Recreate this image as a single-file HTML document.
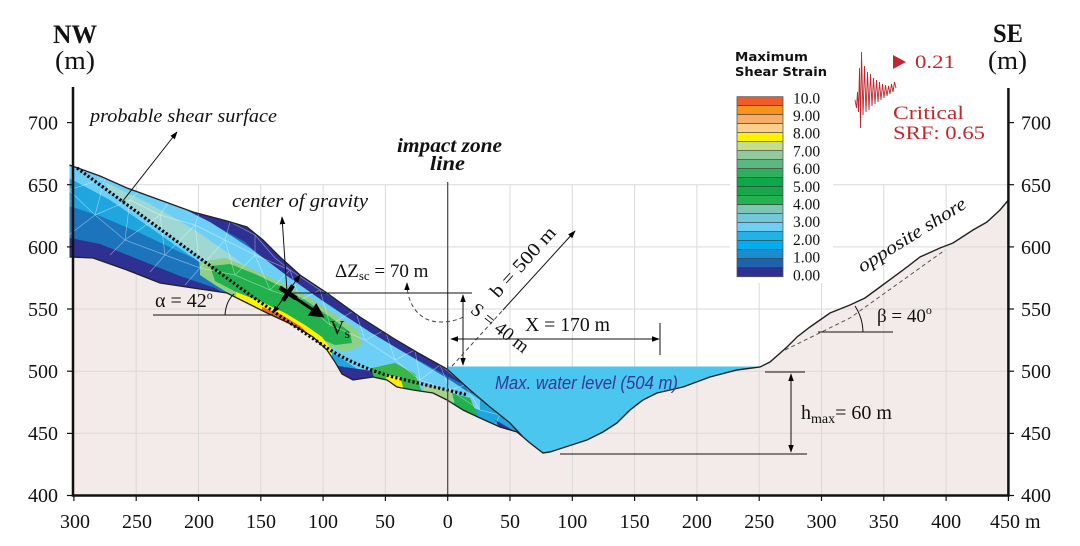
<!DOCTYPE html>
<html><head><meta charset="utf-8"><style>
html,body{margin:0;padding:0;background:#fff;}
svg{display:block;}
text{font-family:"Liberation Serif",serif;fill:#111;}
</style></head><body>
<svg width="1080" height="546" viewBox="0 0 1080 546" xmlns="http://www.w3.org/2000/svg">
<defs>
<marker id="ah" viewBox="0 0 10 10" refX="9" refY="5" markerWidth="8" markerHeight="8" orient="auto-start-reverse"><path d="M0,1.5 L10,5 L0,8.5 z" fill="#000"/></marker>
<marker id="ahb" viewBox="0 0 10 10" refX="8" refY="5" markerWidth="17" markerHeight="15" markerUnits="userSpaceOnUse" orient="auto"><path d="M0,0 L10,5 L0,10 z" fill="#000"/></marker>
<clipPath id="sc"><path d="M69.5,165 L100,176 L127,188 L160,200 L193,212 L227,221 L247,227 L263,240 L280,257 L300,275 L327,293 L360,317 L393,338 L420,354 L447,369 L470,390 L490,407 L510,423 L523,437 L517,432 L500,427 L480,418 L463,410 L447,400 L433,393 L413,390 L397,387 L387,380 L373,377 L353,380 L342,374 L335,362 L327,350 L313,337 L293,325 L267,313 L247,303 L227,293 L193,288 L160,283 L127,270 L93,258 L69.5,257 Z"/></clipPath>
</defs>
<rect x="0" y="0" width="1080" height="546" fill="#fff"/>

<!-- terrain -->
<path d="M73.9,257 L93,258 L127,270 L160,283 L193,288 L227,293 L247,303 L267,313 L293,325 L313,337 L327,350 L335,362 L342,374 L353,380 L373,377 L387,380 L397,387 L413,390 L433,393 L447,400 L463,410 L480,418 L500,427 L517,432 L523,437 L530,443 L543,453 L550,452 L587,440 L603,432 L617,423 L630,410 L643,400 L657,393 L670,390 L683,387 L710,377 L737,370 L760,367 L770,362 L787,347 L797,337 L810,327 L830,313 L850,305 L865,298 L880,287 L907,267 L920,257 L940,248 L953,243 L973,230 L987,222 L1000,210 L1008.4,200 L1008.4,495.5 L73.9,495.5 Z" fill="#f3ebe9"/>

<!-- grid -->
<g stroke="#d9d9d9" stroke-width="1">
<line x1="136.2" y1="184.7" x2="136.2" y2="495.5"/><line x1="198.5" y1="184.7" x2="198.5" y2="495.5"/><line x1="260.8" y1="184.7" x2="260.8" y2="495.5"/><line x1="323.1" y1="184.7" x2="323.1" y2="495.5"/><line x1="385.4" y1="184.7" x2="385.4" y2="495.5"/><line x1="510" y1="184.7" x2="510" y2="495.5"/><line x1="572.3" y1="184.7" x2="572.3" y2="495.5"/><line x1="634.6" y1="184.7" x2="634.6" y2="495.5"/><line x1="696.9" y1="184.7" x2="696.9" y2="495.5"/><line x1="759.2" y1="184.7" x2="759.2" y2="495.5"/><line x1="821.5" y1="184.7" x2="821.5" y2="495.5"/><line x1="883.8" y1="184.7" x2="883.8" y2="495.5"/><line x1="946.1" y1="184.7" x2="946.1" y2="495.5"/>
<line x1="73.9" y1="184.7" x2="1008.4" y2="184.7"/><line x1="73.9" y1="246.9" x2="1008.4" y2="246.9"/><line x1="73.9" y1="309" x2="1008.4" y2="309"/><line x1="73.9" y1="371.2" x2="1008.4" y2="371.2"/><line x1="73.9" y1="433.4" x2="1008.4" y2="433.4"/>
</g>

<!-- water -->
<path d="M447,366.5 L763,366.5 L760,367 L737,370 L710,377 L683,387 L670,390 L657,393 L643,400 L630,410 L617,423 L603,432 L587,440 L550,452 L543,453 L530,443 L523,437 L510,423 L490,407 L470,390 L447,369 Z" fill="#4bc6ef"/>

<!-- slide body -->
<g clip-path="url(#sc)">
<rect x="60" y="150" width="480" height="300" fill="#1fa6df"/>
<path d="M60,203 L100,216 L140,233 L180,252 L215,268 L245,285 L245,420 L60,420 Z" fill="#1c75bc"/>
<path d="M60,236 L100,244 L140,260 L180,276 L215,288 L235,300 L235,420 L60,420 Z" fill="#2e3192"/>
<path d="M150,196 L190,222 L225,240 L250,256 L270,272 L292,292 L320,306 L350,326 L380,344 L410,362 L440,380 L465,392 L480,395 L480,150 L150,150 Z" fill="#1c75bc"/>
<path d="M185,209 L220,228 L245,242 L262,258 L280,275 L300,289 L330,305 L360,327 L393,346 L420,361 L447,376 L460,383 L470,370 L470,150 L185,150 Z" fill="#2e3192"/>
<path d="M69,166 L110,178 L160,197 L210,222 L250,248 L290,278 L330,306 L370,332 L410,356 L450,380 L480,400 L480,410 L440,398 L400,386 L362,372 L332,352 L300,330 L262,304 L225,280 L185,252 L145,224 L110,200 L69,178 Z" fill="#6dcff6"/>
<path d="M105,182 L150,204 L195,230 L235,258 L262,280 L268,300 L240,286 L200,257 L150,222 L108,190 Z" fill="#9fd8d2"/>
<path d="M200,262 L225,258 L250,268 L280,282 L310,298 L335,315 L358,330 L362,345 L345,352 L325,345 L300,332 L270,318 L240,300 L215,285 L200,275 Z" fill="#8fcf86"/>
<path d="M210,266 L230,264 L255,274 L280,286 L305,300 L330,317 L350,332 L352,343 L335,345 L312,335 L290,322 L262,306 L238,293 L215,281 Z" fill="#22b14c"/>
<path d="M236,292 L262,302 L285,313 L305,325 L322,337 L332,350 L332,362 L236,312 Z" fill="#fff200"/>
<path d="M262,307 L282,315 L300,326 L313,338 L313,350 L262,322 Z" fill="#f26522"/>
<path d="M372,368 L395,363 L415,374 L422,392 L390,394 L370,382 Z" fill="#39b54a"/>
<path d="M386,375 L400,377 L404,390 L388,390 Z" fill="#fff200"/>
<path d="M338,366 L372,371 L376,384 L338,384 Z" fill="#2e3192"/>
<path d="M424,386 L452,390 L454,403 L424,399 Z" fill="#a5d38a"/>
<path d="M452,393 L470,398 L478,416 L458,416 Z" fill="#22b14c"/>
<path d="M495,420 L525,437 L503,433 Z" fill="#2e3192"/>
<path d="M69,190 L105,178 L95,215 L69,190 M95,215 L130,200 L125,240 L95,215 M69,235 L95,215 M125,240 L160,215 L165,255 L125,240 M130,200 L160,215 M160,215 L195,225 L165,255 M195,225 L200,268 L165,255 M195,225 L225,240 L200,268 L235,275 L225,240 L255,255 L235,275 M255,255 L270,290 L235,275 M255,255 L290,270 L270,290 L300,300 L290,270 L320,290 L300,300 L330,325 L320,290 L355,310 L330,325 L365,340 L355,310 L385,330 L365,340 L395,360 L385,330 L415,350 L395,360 L420,380 L415,350 L440,365 L420,380 L450,390 L440,365 L465,385 L450,390 L480,410 L465,385 M480,410 L500,415 L495,425 M105,178 L140,190 L130,200 M140,190 L170,200 L160,215 M170,200 L200,210 L195,225 M200,210 L230,222 L225,240 M230,222 L255,235 L255,255 M255,235 L275,258 L290,270 M110,255 L125,240 M150,272 L165,255 M185,285 L200,268" stroke="#fff" stroke-opacity="0.45" stroke-width="0.7" fill="none"/>
</g>
<path d="M69.5,165 L100,176 L127,188 L160,200 L193,212 L227,221 L247,227 L263,240 L280,257 L300,275 L327,293 L360,317 L393,338 L420,354 L447,369 L470,390 L490,407 L510,423 L523,437 L517,432 L500,427 L480,418 L463,410 L447,400 L433,393 L413,390 L397,387 L387,380 L373,377 L353,380 L342,374 L335,362 L327,350 L313,337 L293,325 L267,313 L247,303 L227,293 L193,288 L160,283 L127,270 L93,258 L69.5,257" fill="none" stroke="#222" stroke-width="1.3"/>
<path d="M523,437 L530,443 L543,453 L550,452 L587,440 L603,432 L617,423 L630,410 L643,400 L657,393 L670,390 L683,387 L710,377 L737,370 L760,367 L770,362 L787,347 L797,337 L810,327 L830,313 L850,305 L865,298 L880,287 L907,267 L920,257 L940,248 L953,243 L973,230 L987,222 L1000,210 L1008.4,200" fill="none" stroke="#222" stroke-width="1.4"/>

<!-- shear surface dotted -->
<path d="M77,168 L250,295 L293,325 L327,348 Q355,366 393,377 L468,395" fill="none" stroke="#000" stroke-width="3.2" stroke-dasharray="2.2 2.2"/>

<!-- impact zone line -->
<line x1="447.7" y1="182" x2="447.7" y2="495.5" stroke="#444" stroke-width="1.2"/>

<!-- legend white bg -->
<rect x="730" y="40" width="103" height="243" fill="#fff"/>

<!-- axes -->
<g stroke="#111" stroke-width="2.5" fill="none">
<line x1="73" y1="87" x2="73" y2="496.5"/>
<line x1="71.8" y1="495.5" x2="1009.6" y2="495.5"/>
<line x1="1008.4" y1="88" x2="1008.4" y2="496.5"/>
</g>
<g stroke="#111" stroke-width="1.2">
<line x1="67" y1="495.5" x2="73" y2="495.5"/><line x1="67" y1="433.4" x2="73" y2="433.4"/><line x1="67" y1="371.2" x2="73" y2="371.2"/><line x1="67" y1="309" x2="73" y2="309"/><line x1="67" y1="246.9" x2="73" y2="246.9"/><line x1="67" y1="184.7" x2="73" y2="184.7"/><line x1="67" y1="122.6" x2="73" y2="122.6"/>
<line x1="1008" y1="495.5" x2="1014" y2="495.5"/><line x1="1008" y1="433.4" x2="1014" y2="433.4"/><line x1="1008" y1="371.2" x2="1014" y2="371.2"/><line x1="1008" y1="309" x2="1014" y2="309"/><line x1="1008" y1="246.9" x2="1014" y2="246.9"/><line x1="1008" y1="184.7" x2="1014" y2="184.7"/><line x1="1008" y1="122.6" x2="1014" y2="122.6"/>
<line x1="73.9" y1="495" x2="73.9" y2="501"/><line x1="136.2" y1="495" x2="136.2" y2="501"/><line x1="198.5" y1="495" x2="198.5" y2="501"/><line x1="260.8" y1="495" x2="260.8" y2="501"/><line x1="323.1" y1="495" x2="323.1" y2="501"/><line x1="385.4" y1="495" x2="385.4" y2="501"/><line x1="447.7" y1="495" x2="447.7" y2="501"/><line x1="510" y1="495" x2="510" y2="501"/><line x1="572.3" y1="495" x2="572.3" y2="501"/><line x1="634.6" y1="495" x2="634.6" y2="501"/><line x1="696.9" y1="495" x2="696.9" y2="501"/><line x1="759.2" y1="495" x2="759.2" y2="501"/><line x1="821.5" y1="495" x2="821.5" y2="501"/><line x1="883.8" y1="495" x2="883.8" y2="501"/><line x1="946.1" y1="495" x2="946.1" y2="501"/><line x1="1008.4" y1="495" x2="1008.4" y2="501"/>
</g>

<!-- tick labels -->
<g font-size="20" text-anchor="end">
<text x="58" y="502">400</text><text x="58" y="440">450</text><text x="58" y="378">500</text><text x="58" y="316">550</text><text x="58" y="254">600</text><text x="58" y="192">650</text><text x="58" y="129.5">700</text>
</g>
<g font-size="20">
<text x="1021" y="502">400</text><text x="1021" y="440">450</text><text x="1021" y="378">500</text><text x="1021" y="316">550</text><text x="1021" y="254">600</text><text x="1021" y="192">650</text><text x="1021" y="129.5">700</text>
</g>
<g font-size="20" text-anchor="middle">
<text x="75" y="528">300</text><text x="137" y="528">250</text><text x="199" y="528">200</text><text x="261" y="528">150</text><text x="323" y="528">100</text><text x="385" y="528">50</text><text x="447.7" y="528">0</text><text x="510" y="528">50</text><text x="572.3" y="528">100</text><text x="634.6" y="528">150</text><text x="696.9" y="528">200</text><text x="759.2" y="528">250</text><text x="821.5" y="528">300</text><text x="883.8" y="528">350</text><text x="946.1" y="528">400</text>
</g>
<text x="990" y="528" font-size="20">450 m</text>

<!-- axis titles -->
<text x="53" y="43" font-size="26" font-weight="bold" textLength="44" lengthAdjust="spacingAndGlyphs">NW</text>
<text x="55" y="69" font-size="26" textLength="40" lengthAdjust="spacingAndGlyphs">(m)</text>
<text x="993" y="42" font-size="26" font-weight="bold" textLength="30" lengthAdjust="spacingAndGlyphs">SE</text>
<text x="988" y="69" font-size="26" textLength="39" lengthAdjust="spacingAndGlyphs">(m)</text>

<!-- legend -->
<text x="735" y="61" font-weight="bold" font-size="12.5" textLength="73" lengthAdjust="spacingAndGlyphs" style="font-family:'DejaVu Sans','Liberation Sans',sans-serif">Maximum</text>
<text x="735" y="76" font-weight="bold" font-size="12.5" textLength="92" lengthAdjust="spacingAndGlyphs" style="font-family:'DejaVu Sans','Liberation Sans',sans-serif">Shear Strain</text>
<g>
<rect x="737" y="96.7" width="46" height="9" fill="#f15a29"/>
<rect x="737" y="105.7" width="46" height="9" fill="#f7941d"/>
<rect x="737" y="114.7" width="46" height="9" fill="#f9ad6a"/>
<rect x="737" y="123.7" width="46" height="9" fill="#fdd089"/>
<rect x="737" y="132.7" width="46" height="9" fill="#fff200"/>
<rect x="737" y="141.7" width="46" height="9" fill="#c4df8c"/>
<rect x="737" y="150.7" width="46" height="9" fill="#8fcb9c"/>
<rect x="737" y="159.7" width="46" height="9" fill="#5cb87e"/>
<rect x="737" y="168.7" width="46" height="9" fill="#2eb05a"/>
<rect x="737" y="177.7" width="46" height="9" fill="#0ea84a"/>
<rect x="737" y="186.7" width="46" height="9" fill="#17a74b"/>
<rect x="737" y="195.7" width="46" height="9" fill="#25b14f"/>
<rect x="737" y="204.7" width="46" height="9" fill="#80c6b4"/>
<rect x="737" y="213.7" width="46" height="9" fill="#73c9d9"/>
<rect x="737" y="222.7" width="46" height="9" fill="#6dcff6"/>
<rect x="737" y="231.7" width="46" height="9" fill="#22b2e3"/>
<rect x="737" y="240.7" width="46" height="9" fill="#00aeef"/>
<rect x="737" y="249.7" width="46" height="9" fill="#1b8dcf"/>
<rect x="737" y="258.7" width="46" height="9" fill="#1d63ad"/>
<rect x="737" y="267.7" width="46" height="9" fill="#2e3192"/>
</g>
<g stroke="#333" stroke-width="0.7">
<line x1="737" y1="105.7" x2="783" y2="105.7"/><line x1="737" y1="114.7" x2="783" y2="114.7"/><line x1="737" y1="123.7" x2="783" y2="123.7"/><line x1="737" y1="132.7" x2="783" y2="132.7"/><line x1="737" y1="141.7" x2="783" y2="141.7"/><line x1="737" y1="150.7" x2="783" y2="150.7"/><line x1="737" y1="159.7" x2="783" y2="159.7"/><line x1="737" y1="168.7" x2="783" y2="168.7"/><line x1="737" y1="177.7" x2="783" y2="177.7"/><line x1="737" y1="186.7" x2="783" y2="186.7"/><line x1="737" y1="195.7" x2="783" y2="195.7"/><line x1="737" y1="204.7" x2="783" y2="204.7"/><line x1="737" y1="213.7" x2="783" y2="213.7"/><line x1="737" y1="222.7" x2="783" y2="222.7"/><line x1="737" y1="231.7" x2="783" y2="231.7"/><line x1="737" y1="240.7" x2="783" y2="240.7"/><line x1="737" y1="249.7" x2="783" y2="249.7"/><line x1="737" y1="258.7" x2="783" y2="258.7"/><line x1="737" y1="267.7" x2="783" y2="267.7"/>
</g>
<rect x="737" y="96.7" width="46" height="180" fill="none" stroke="#555" stroke-width="0.8"/>
<g font-size="15.5">
<text x="793" y="103.3">10.0</text><text x="793" y="121">9.00</text><text x="793" y="138.7">8.00</text><text x="793" y="156.4">7.00</text><text x="793" y="174.1">6.00</text><text x="793" y="191.8">5.00</text><text x="793" y="209.5">4.00</text><text x="793" y="227.2">3.00</text><text x="793" y="244.9">2.00</text><text x="793" y="262.6">1.00</text><text x="793" y="280.3">0.00</text>
</g>

<!-- seismogram -->
<polyline points="855,100 856.5,108 857.5,92 858.5,112 859.5,68 860.5,128 861.5,52 863,115 864.5,66 866,112 867.5,72 869,110 870.5,74 872,106 873.5,78 875,104 876.5,80 878,102 879.5,82 881,100 882.5,84 884,98 885.5,85 887,96 888.5,86 890,94 891.5,84 893,92 894.5,82 896,88" fill="none" stroke="#c1272d" stroke-width="0.9"/>
<path d="M893,55 L906,62 L893,69 Z" fill="#c1272d"/>
<text x="915" y="68" font-size="19" textLength="40" lengthAdjust="spacingAndGlyphs" style="fill:#c1272d">0.21</text>
<text x="893" y="119" font-size="19" textLength="71" lengthAdjust="spacingAndGlyphs" style="fill:#c1272d">Critical</text>
<text x="893" y="139" font-size="19" textLength="92" lengthAdjust="spacingAndGlyphs" style="fill:#c1272d">SRF: 0.65</text>

<!-- annotations -->
<text x="90" y="122" font-size="19" font-style="italic" textLength="187" lengthAdjust="spacingAndGlyphs">probable shear surface</text>
<line x1="122" y1="202" x2="177" y2="132" stroke="#111" stroke-width="1" marker-end="url(#ah)"/>
<text x="232" y="207" font-size="19" font-style="italic" textLength="136" lengthAdjust="spacingAndGlyphs">center of gravity</text>
<line x1="287" y1="292" x2="282" y2="217" stroke="#111" stroke-width="1" marker-end="url(#ah)"/>
<line x1="290" y1="293" x2="472" y2="293" stroke="#111" stroke-width="1"/>
<line x1="273" y1="313" x2="300" y2="275" stroke="#111" stroke-width="1" marker-start="url(#ah)" marker-end="url(#ah)"/>
<line x1="288" y1="293" x2="322" y2="316" stroke="#000" stroke-width="3" marker-end="url(#ahb)"/>
<line x1="279.7" y1="287.5" x2="296.3" y2="298.5" stroke="#000" stroke-width="4.5"/>
<line x1="283" y1="300.5" x2="293" y2="285.5" stroke="#000" stroke-width="4.5"/>
<text x="330" y="334" font-size="20">V<tspan font-size="14" dy="4">s</tspan></text>
<text x="335" y="277" font-size="19">ΔZ<tspan font-size="13" dy="3">sc</tspan><tspan dy="-3"> = 70 m</tspan></text>
<path d="M407,283 C407,305 420,322 440,322 C450,322 458,320 463,317" fill="none" stroke="#444" stroke-width="1" stroke-dasharray="4 3" marker-start="url(#ah)"/>
<line x1="463" y1="295" x2="463" y2="365" stroke="#111" stroke-width="1" marker-start="url(#ah)" marker-end="url(#ah)"/>
<line x1="452" y1="366" x2="503" y2="310" stroke="#444" stroke-width="1" stroke-dasharray="4 3"/>
<line x1="503" y1="310" x2="575" y2="231" stroke="#111" stroke-width="1" marker-end="url(#ah)"/>
<text transform="translate(523,262) rotate(-48)" text-anchor="middle" y="6" font-size="19" textLength="88" lengthAdjust="spacingAndGlyphs">b = 500 m</text>
<text transform="translate(500,328) rotate(38)" text-anchor="middle" y="6" font-size="19" textLength="68" lengthAdjust="spacingAndGlyphs">S = 40 m</text>
<line x1="451" y1="339" x2="659" y2="339" stroke="#111" stroke-width="1" marker-start="url(#ah)" marker-end="url(#ah)"/>
<line x1="660" y1="323" x2="660" y2="355" stroke="#111" stroke-width="1"/>
<text x="525" y="331" font-size="20" textLength="85" lengthAdjust="spacingAndGlyphs">X = 170 m</text>
<text x="495" y="389" font-size="18" font-style="italic" textLength="183" lengthAdjust="spacingAndGlyphs" style="fill:#36399a;font-family:'Liberation Sans',sans-serif">Max. water level (504 m)</text>
<text x="449.5" y="152" font-size="20" font-weight="bold" font-style="italic" text-anchor="middle" textLength="105" lengthAdjust="spacingAndGlyphs">impact zone</text>
<text x="447.5" y="170" font-size="20" font-weight="bold" font-style="italic" text-anchor="middle" textLength="35" lengthAdjust="spacingAndGlyphs">line</text>

<!-- alpha -->
<line x1="153" y1="315" x2="273" y2="315" stroke="#111" stroke-width="1"/>
<path d="M225,315 Q226,301 234,294" fill="none" stroke="#111" stroke-width="1"/>
<text x="155" y="307" font-size="20">α = 42<tspan font-size="12" dy="-8">o</tspan></text>

<!-- hmax -->
<line x1="765" y1="372" x2="805" y2="372" stroke="#111" stroke-width="1"/>
<line x1="560" y1="454" x2="807" y2="454" stroke="#111" stroke-width="1"/>
<line x1="791" y1="374" x2="791" y2="452" stroke="#111" stroke-width="1" marker-start="url(#ah)" marker-end="url(#ah)"/>
<text x="801" y="419" font-size="20">h<tspan font-size="14" dy="4">max</tspan><tspan dy="-4">= 60 m</tspan></text>

<!-- beta / opposite shore -->
<polyline points="785,350 850,318 945,250" fill="none" stroke="#555" stroke-width="1" stroke-dasharray="4 3"/>
<line x1="818" y1="332" x2="893" y2="332" stroke="#111" stroke-width="1"/>
<path d="M863,332 A50,50 0 0 0 855,306" fill="none" stroke="#111" stroke-width="1"/>
<text x="877" y="322" font-size="19">β = 40<tspan font-size="12" dy="-8">o</tspan></text>
<text transform="translate(915,240) rotate(-32)" text-anchor="middle" y="0" font-size="19" font-style="italic" textLength="124" lengthAdjust="spacingAndGlyphs">opposite shore</text>
</svg>
</body></html>
